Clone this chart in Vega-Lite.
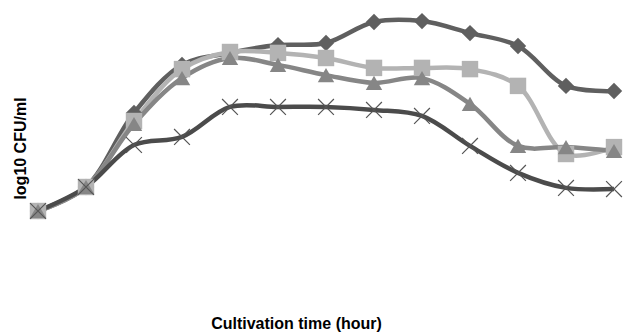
{
  "$schema": "https://vega.github.io/schema/vega-lite/v6.json",
  "width": 576,
  "height": 270,
  "autosize": {"type": "none"},
  "padding": {"left": 38, "top": 1, "right": 10, "bottom": 62},
  "background": "white",
  "config": {
    "view": {"stroke": null},
    "axis": {"domain": false, "ticks": false, "labels": false, "grid": false, "titleFont": "Liberation Sans", "titleFontWeight": "bold", "titleFontSize": 16, "titleColor": "black"}
  },
  "data": {"values": [
    {"hour": 0, "series": "S1", "value": 3.0}, {"hour": 2, "series": "S1", "value": 3.8}, {"hour": 4, "series": "S1", "value": 6.27}, {"hour": 6, "series": "S1", "value": 7.87}, {"hour": 8, "series": "S1", "value": 8.27}, {"hour": 10, "series": "S1", "value": 8.53}, {"hour": 12, "series": "S1", "value": 8.6}, {"hour": 14, "series": "S1", "value": 9.3}, {"hour": 16, "series": "S1", "value": 9.33}, {"hour": 18, "series": "S1", "value": 8.93}, {"hour": 20, "series": "S1", "value": 8.5}, {"hour": 22, "series": "S1", "value": 7.17}, {"hour": 24, "series": "S1", "value": 7.0},
    {"hour": 0, "series": "S2", "value": 3.0}, {"hour": 2, "series": "S2", "value": 3.8}, {"hour": 4, "series": "S2", "value": 6.0}, {"hour": 6, "series": "S2", "value": 7.73}, {"hour": 8, "series": "S2", "value": 8.3}, {"hour": 10, "series": "S2", "value": 8.27}, {"hour": 12, "series": "S2", "value": 8.1}, {"hour": 14, "series": "S2", "value": 7.77}, {"hour": 16, "series": "S2", "value": 7.77}, {"hour": 18, "series": "S2", "value": 7.73}, {"hour": 20, "series": "S2", "value": 7.17}, {"hour": 22, "series": "S2", "value": 4.9}, {"hour": 24, "series": "S2", "value": 5.13},
    {"hour": 0, "series": "S3", "value": 3.0}, {"hour": 2, "series": "S3", "value": 3.8}, {"hour": 4, "series": "S3", "value": 5.9}, {"hour": 6, "series": "S3", "value": 7.43}, {"hour": 8, "series": "S3", "value": 8.1}, {"hour": 10, "series": "S3", "value": 7.87}, {"hour": 12, "series": "S3", "value": 7.53}, {"hour": 14, "series": "S3", "value": 7.27}, {"hour": 16, "series": "S3", "value": 7.43}, {"hour": 18, "series": "S3", "value": 6.57}, {"hour": 20, "series": "S3", "value": 5.17}, {"hour": 22, "series": "S3", "value": 5.13}, {"hour": 24, "series": "S3", "value": 5.0},
    {"hour": 0, "series": "S4", "value": 3.0}, {"hour": 2, "series": "S4", "value": 3.8}, {"hour": 4, "series": "S4", "value": 5.2}, {"hour": 6, "series": "S4", "value": 5.47}, {"hour": 8, "series": "S4", "value": 6.47}, {"hour": 10, "series": "S4", "value": 6.47}, {"hour": 12, "series": "S4", "value": 6.47}, {"hour": 14, "series": "S4", "value": 6.37}, {"hour": 16, "series": "S4", "value": 6.17}, {"hour": 18, "series": "S4", "value": 5.17}, {"hour": 20, "series": "S4", "value": 4.27}, {"hour": 22, "series": "S4", "value": 3.77}, {"hour": 24, "series": "S4", "value": 3.73}
  ]},
  "encoding": {
    "x": {"field": "hour", "type": "quantitative", "scale": {"domain": [0, 24], "nice": false}, "axis": {"title": "Cultivation time (hour)", "titleX": 258, "titleY": 57, "titleBaseline": "alphabetic"}},
    "y": {"field": "value", "type": "quantitative", "scale": {"domain": [1, 10], "nice": false, "zero": false}, "axis": {"title": "log10 CFU/ml", "titleX": -13, "titleY": 147, "titleBaseline": "alphabetic"}},
    "color": {"field": "series", "type": "nominal", "scale": {"domain": ["S1", "S2", "S3", "S4"], "range": ["#5f5f5f", "#b3b3b3", "#868686", "#4b4b4b"]}, "legend": null}
  },
  "layer": [
    {"mark": {"type": "line", "interpolate": "catmull-rom", "strokeWidth": 4.5}},
    {"transform": [{"filter": "datum.series !== 'S4'"}],
     "mark": {"type": "point", "filled": true, "opacity": 1, "size": 270},
     "encoding": {"shape": {"field": "series", "type": "nominal", "scale": {"domain": ["S1", "S2", "S3"], "range": ["diamond", "square", "triangle-up"]}, "legend": null}}},
    {"transform": [{"filter": "datum.series === 'S4'"}],
     "mark": {"type": "point", "filled": false, "opacity": 1, "size": 250, "strokeWidth": 1.2, "shape": "M-1,-1L1,1M-1,1L1,-1", "stroke": "#555555"},
     "encoding": {"color": {"value": "#555555"}}}
  ]
}
